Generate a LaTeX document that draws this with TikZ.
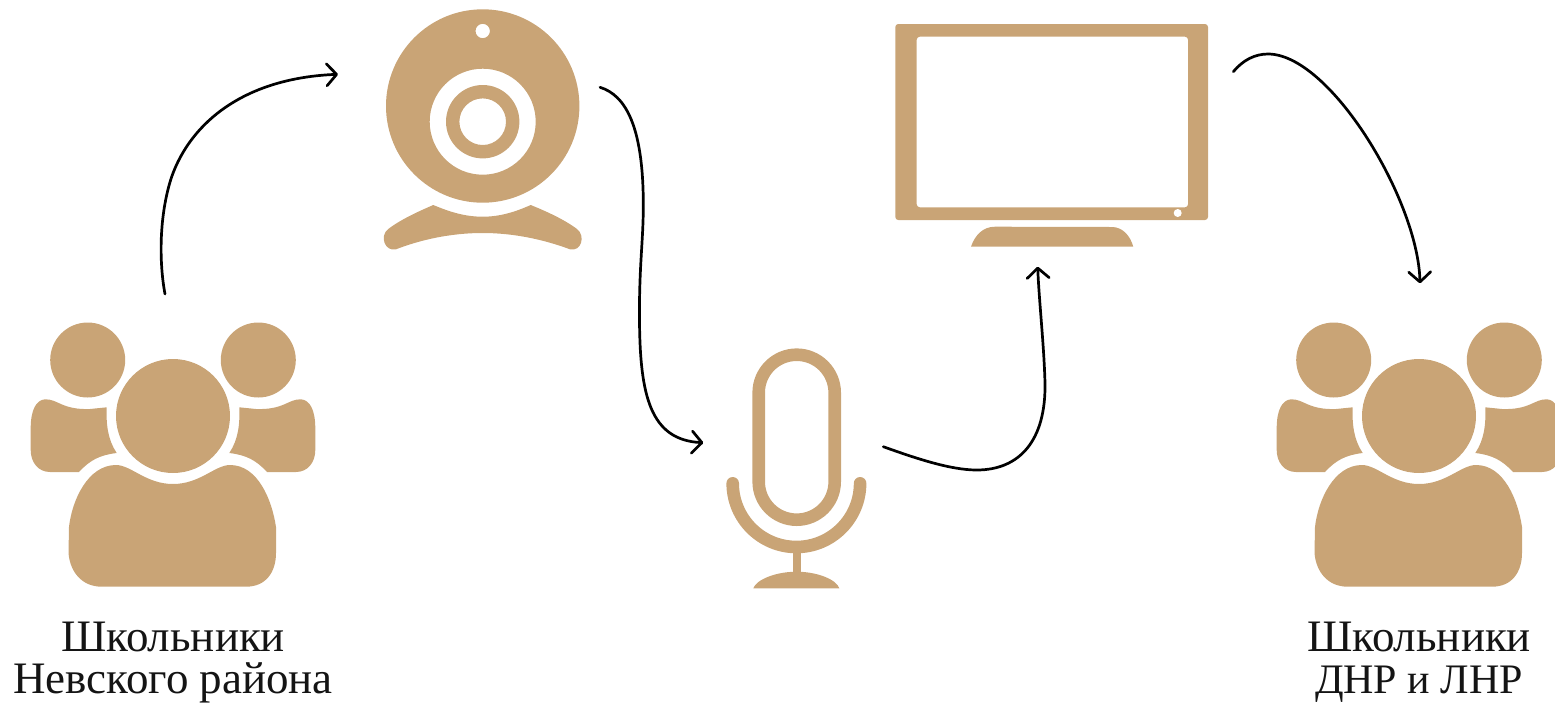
\documentclass[tikz,border=0pt]{standalone}
\usepackage{fontspec}
\setmainfont{Liberation Serif}
\usetikzlibrary{arrows.meta}
\definecolor{tan}{HTML}{C9A476}
\tikzset{
  icon/.style={fill=tan,draw=none},
  iconline/.style={draw=tan,line width=6.3pt,fill=none},
  flow/.style={draw=black,line width=1.35pt,line cap=round,-{Straight Barb[length=5pt,width=11pt,line width=1.35pt,round]}},
  caption/.style={align=center,inner sep=0pt,font=\fontsize{22.5}{21}\selectfont,text=black!92}
}
\newcommand{\crowdicon}{%
  \fill[icon] (87.7,360) circle[radius=37.5] (258.3,360) circle[radius=37.5] (173,416) circle[radius=57];
  % central body
  \fill[icon] (101.7,586.7) -- (246,586.7) .. controls (266,586.7) and (276,572) .. (276,553)
    -- (276,527) .. controls (272,500) and (258,465) .. (230,465)
    .. controls (215,465) and (200,484) .. (173,484)
    .. controls (146,484) and (131,465) .. (116,465)
    .. controls (88,465) and (72,500) .. (69,527)
    -- (68.5,553) .. controls (70,572) and (82,586.7) .. (101.7,586.7) -- cycle;
  % side bodies
  \foreach \m/\o in {1/0,-1/346}{
    \begin{scope}[xshift=\o*0.5pt,xscale=\m]
      \fill[icon] (45,399.3) .. controls (58,399) and (62,410) .. (90,409)
        -- (106.7,407.3) .. controls (106,425) and (108,440) .. (116.7,453)
        .. controls (100,455) and (90,460) .. (79,472)
        -- (50,472) .. controls (38,472) and (30.7,462) .. (30.7,450)
        -- (30.7,427) .. controls (31,410) and (36,400) .. (45,399.3) -- cycle;
    \end{scope}
  }
}
\begin{document}
\begin{tikzpicture}[x=0.5pt,y=-0.5pt]
\useasboundingbox (0,0) rectangle (1555,703);
% groups
\crowdicon
\begin{scope}[xshift=623pt]\crowdicon\end{scope}
% webcam
\fill[icon,even odd rule] (482.7,106) circle[radius=96.7] (482.7,31) circle[radius=7.2]
   (482.7,121.7) circle[radius=53] (482.7,121.7) circle[radius=36.7] (482.7,121.7) circle[radius=23.3];
\fill[icon] (433.3,205) .. controls (450,212) and (465,216.7) .. (482.7,216.7)
  .. controls (500,216.7) and (515,212) .. (530.7,205)
  .. controls (548,212) and (565,220) .. (577,229)
  .. controls (586,236) and (581,252) .. (570,249.3)
  .. controls (545,240) and (515,233) .. (482.7,233)
  .. controls (450,233) and (420,240) .. (396,249.3)
  .. controls (385,252) and (379,236) .. (388.3,229)
  .. controls (400,220) and (417,212) .. (433.3,205) -- cycle;
% microphone
\draw[iconline] (758.7,392.7) arc[start angle=180,end angle=360,radius=38] -- (834.7,481.7)
  arc[start angle=0,end angle=180,radius=38] -- cycle;
\draw[iconline,line cap=round] (732.7,483.3) arc[start angle=180,end angle=0,radius=63.7];
\fill[icon] (792.7,550) rectangle (800.7,576);
\fill[icon] (753.3,588.3) .. controls (756,580) and (775,571.7) .. (796.5,571.7)
  .. controls (818,571.7) and (837,580) .. (839.3,588.3) -- cycle;
% television
\fill[icon,even odd rule,rounded corners=1.5pt] (895.3,24) rectangle (1208,220) (916.7,36.7) rectangle (1188,207.3);
\fill[white] (1177.7,213) circle[radius=4];
\fill[icon] (971,246.7) .. controls (975,235) and (983,226.7) .. (995,226.7)
  -- (1112,227) .. controls (1122,227) and (1130,235) .. (1133.3,246.7) -- cycle;
% captions
\node[caption] (left) at (173,662.5) {Школьники\\Невского района};
\node[caption] (right) at (1419,662.5) {Школьники\\\fontsize{21}{21}\selectfont ДНР и ЛНР};
% connector ends
\coordinate (a1) at (165,294);     \coordinate (b1) at (338,74.3);
\coordinate (a2) at (600,87.3);    \coordinate (b2) at (703.3,442.7);
\coordinate (a3) at (883.3,446.7); \coordinate (b3) at (1037.7,266.7);
\coordinate (a4) at (1233.3,71.7); \coordinate (b4) at (1420,283.3);
\draw[flow] (a1) .. controls (159,262) and (159,215) .. (171.7,176.7)
   .. controls (191,122) and (245,78) .. (b1);
\draw[flow] (a2) .. controls (625,95) and (643,125) .. (643.3,203)
   .. controls (643.5,240) and (639,265) .. (639.5,320)
   .. controls (640,395) and (650,440) .. (b2);
\draw[flow] (a3) .. controls (915,458) and (950,470) .. (976.7,470)
   .. controls (1020,470) and (1046,440) .. (1045,383)
   .. controls (1044,345) and (1039,300) .. (b3);
\draw[flow] (a4) .. controls (1243,60) and (1255,54) .. (1268,54)
   .. controls (1330,54) and (1418,200) .. (b4);
\end{tikzpicture}
\end{document}
